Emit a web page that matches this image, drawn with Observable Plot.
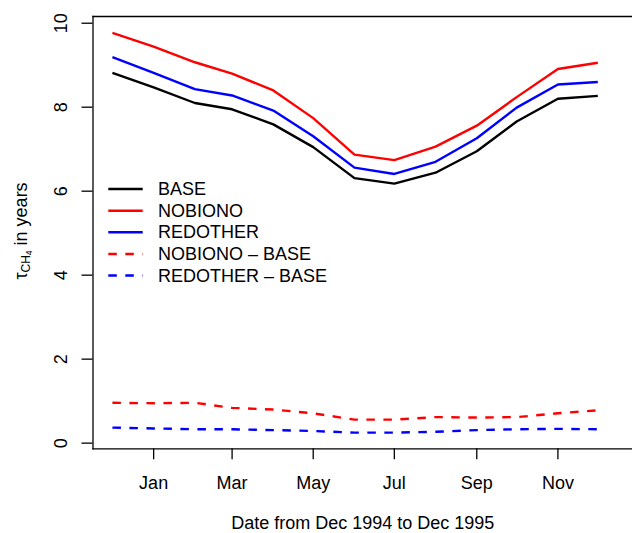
<!DOCTYPE html>
<html><head><meta charset="utf-8">
<script src="https://cdn.jsdelivr.net/npm/d3@7"></script>
<script src="https://cdn.jsdelivr.net/npm/@observablehq/plot@0.6"></script>
<style>
html,body{margin:0;padding:0;overflow:hidden;background:#fff;}
svg{display:block;}
</style></head><body><div id="chart"></div>
<script>
// ---- data ----
const months = ["1994-12-01","1995-01-01","1995-02-01","1995-03-01","1995-04-01","1995-05-01","1995-06-01",
                "1995-07-01","1995-08-01","1995-09-01","1995-10-01","1995-11-01","1995-12-01"];
const base     = [8.82, 8.47, 8.10, 7.95, 7.59, 7.05, 6.31, 6.18, 6.44, 6.95, 7.66, 8.20, 8.27];
const nobiono  = [9.77, 9.44, 9.07, 8.80, 8.40, 7.74, 6.87, 6.74, 7.06, 7.56, 8.24, 8.91, 9.06];
const redother = [9.19, 8.82, 8.43, 8.28, 7.92, 7.31, 6.56, 6.41, 6.70, 7.26, 7.99, 8.54, 8.60];
const nobionoMinusBase  = [0.96, 0.95, 0.96, 0.84, 0.80, 0.71, 0.56, 0.56, 0.62, 0.61, 0.62, 0.71, 0.78];
const redotherMinusBase = [0.37, 0.35, 0.33, 0.33, 0.31, 0.29, 0.25, 0.25, 0.27, 0.31, 0.33, 0.34, 0.33];

const seriesNames  = ["BASE","NOBIONO","REDOTHER","NOBIONO – BASE","REDOTHER – BASE"];
const seriesValues = [base, nobiono, redother, nobionoMinusBase, redotherMinusBase];
const seriesColors = ["black","red","blue","red","blue"];
const seriesDashed = [false,false,false,true,true];

const xTickDates  = ["1995-01-01","1995-03-01","1995-05-01","1995-07-01","1995-09-01","1995-11-01"];
const xTickLabels = ["Jan","Mar","May","Jul","Sep","Nov"];
const yTicks = [0, 2, 4, 6, 8, 10];
const xTitle = "Date from Dec 1994 to Dec 1995";

// ---- build ----
const FONT = "Liberation Sans, Arial, Helvetica, sans-serif";
const FS = 18;
const DASH = "8.5,8.5";
const LW = 2.4;
const parse = d3.utcParse("%Y-%m-%d");
const dates = months.map(parse);
const tickDates = xTickDates.map(parse);
const t0 = +dates[0], t1 = +dates[dates.length - 1], span = t1 - t0;
const xDomain = [new Date(t0 - 0.04 * span), new Date(t1 + 0.0715 * span)];

const rows = seriesNames.map((name, i) => dates.map((d, j) => ({date: d, value: seriesValues[i][j], series: name})));

const lineMarks = rows.map((r, i) => Plot.lineY(r, {
  x: "date", y: "value", stroke: seriesColors[i], strokeWidth: LW,
  strokeDasharray: seriesDashed[i] ? DASH : null, strokeLinejoin: "miter", strokeLinecap: "butt"
}));

const chart = Plot.plot({
  width: 632, height: 533,
  marginLeft: 92.5, marginRight: 0, marginTop: 16, marginBottom: 84.7,
  style: {fontFamily: FONT, fontSize: FS + "px", color: "black", background: "white"},
  x: {type: "utc", domain: xDomain},
  y: {domain: [-0.135, 10.16]},
  marks: [
    Plot.frame({anchor: "top", stroke: "black", strokeWidth: 1.3}),
    Plot.frame({anchor: "bottom", stroke: "black", strokeWidth: 1.3}),
    Plot.frame({anchor: "left", stroke: "black", strokeWidth: 1.3}),
    ...lineMarks,
    Plot.axisX(tickDates, {tickSize: 11, tickPadding: 16.7, strokeWidth: 1.3,
      tickFormat: d => xTickLabels[tickDates.findIndex(t => +t === +d)], fontSize: FS, label: null}),
    Plot.axisY(yTicks, {tickSize: 11, strokeWidth: 1.3, tickFormat: () => "", label: null}),
    Plot.text(yTicks, {y: d => d, text: d => String(d), frameAnchor: "left", dx: -32,
      rotate: -90, textAnchor: "middle", lineAnchor: "middle", fontSize: FS}),
    Plot.text([xTitle], {frameAnchor: "bottom", dy: 74.7, lineAnchor: "middle", textAnchor: "middle", fontSize: FS})
  ]
});
document.getElementById("chart").appendChild(chart);

// y-axis title with subscripts
const svg = d3.select(chart);
const yt = svg.append("text")
  .attr("transform", "translate(21,231) rotate(-90)")
  .attr("text-anchor", "middle")
  .attr("dominant-baseline", "central")
  .style("font-family", FONT).style("font-size", FS + "px").attr("fill", "black");
yt.append("tspan").text("τ");
yt.append("tspan").attr("dy", 5).style("font-size", "12px").text("CH");
yt.append("tspan").attr("dy", 2.5).style("font-size", "8.5px").text("4");
yt.append("tspan").attr("dy", -7.5).text(" in years");

// legend
const legY = [189, 210.7, 232.3, 254, 275.5];
const leg = svg.append("g").attr("text-anchor", "start");
seriesNames.forEach((name, i) => {
  leg.append("line").attr("x1", 108.3).attr("x2", 142.7).attr("y1", legY[i]).attr("y2", legY[i])
    .attr("stroke", seriesColors[i]).attr("stroke-width", LW)
    .attr("stroke-dasharray", seriesDashed[i] ? DASH : null);
  leg.append("text").attr("x", 158).attr("y", legY[i]).attr("dominant-baseline", "central")
    .attr("text-anchor", "start")
    .style("font-family", FONT).style("font-size", FS + "px").attr("fill", "black").text(name);
});
</script>
</body></html>
